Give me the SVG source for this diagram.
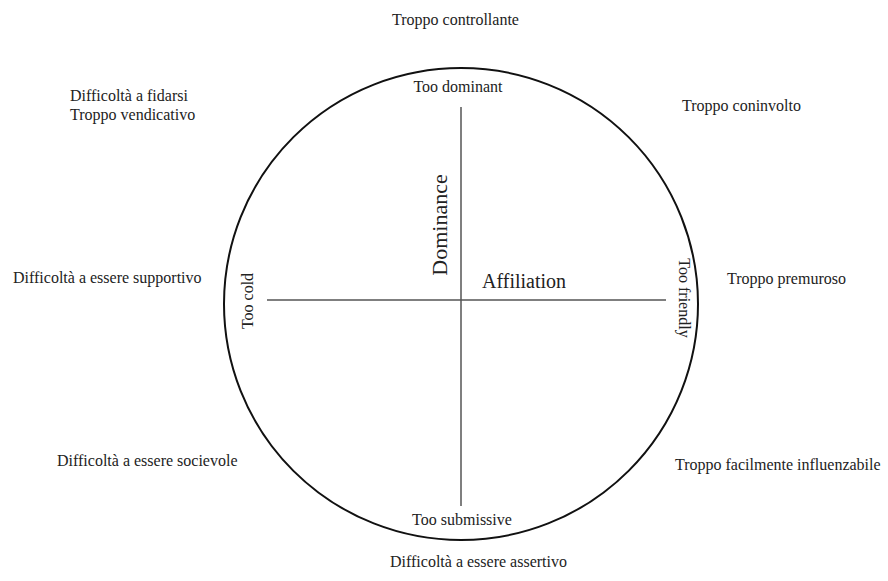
<svg xmlns="http://www.w3.org/2000/svg" width="888" height="581" viewBox="0 0 888 581">
<style>
text{font-family:"Liberation Serif","Times New Roman",serif;fill:#222;font-size:16px}
.axis{stroke:#555;stroke-width:1.5;fill:none}
.ring{stroke:#111;stroke-width:2;fill:none}
.big{font-size:22px}
.mid{font-size:20px}
</style>
<rect width="888" height="581" fill="#fff"/>
<g id="circumplex">
<ellipse class="ring" cx="461" cy="304" rx="237" ry="236"/>
</g>
<g id="connectors">
<line class="axis" x1="461" y1="107" x2="461" y2="506"/>
<line class="axis" x1="267" y1="300" x2="666" y2="300"/>
</g>
<g id="axis-labels">
<text class="big" text-anchor="middle" transform="translate(447,225) rotate(-90)">Dominance</text>
<text class="mid" x="482" y="288">Affiliation</text>
</g>
<g id="inner-labels">
<text x="458" y="92" text-anchor="middle">Too dominant</text>
<text x="462" y="525" text-anchor="middle">Too submissive</text>
<text text-anchor="middle" transform="translate(253,301) rotate(-90)">Too cold</text>
<text text-anchor="middle" transform="translate(679,298) rotate(90)">Too friendly</text>
</g>
<g id="outer-labels">
<text x="392" y="25">Troppo controllante</text>
<text x="70" y="101">Difficoltà a fidarsi</text>
<text x="70" y="120">Troppo vendicativo</text>
<text x="682" y="111">Troppo coninvolto</text>
<text x="13" y="283">Difficoltà a essere supportivo</text>
<text x="727" y="284">Troppo premuroso</text>
<text x="57" y="466">Difficoltà a essere socievole</text>
<text x="675" y="470">Troppo facilmente influenzabile</text>
<text x="390" y="567">Difficoltà a essere assertivo</text>
</g>
</svg>
